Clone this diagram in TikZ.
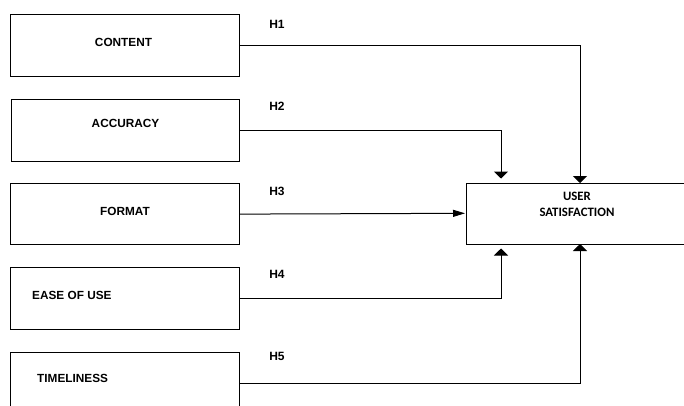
\documentclass[tikz,border=0pt]{standalone}
\usepackage{fontspec}
\usetikzlibrary{arrows.meta}
\newfontfamily\arialf{Liberation Sans}
\newfontfamily\carlitof{Carlito}
\begin{document}
\begin{tikzpicture}[x=1pt,y=-1pt,
  box/.style={draw, line width=1.2pt, rectangle, inner sep=0pt, anchor=north west},
  lbl/.style={inner sep=0pt, font=\arialf\bfseries\fontsize{11.8}{14}\selectfont},
  hlbl/.style={inner sep=0pt, font=\arialf\bfseries\fontsize{12}{14}\selectfont},
  conn/.style={line width=1pt},
  vtip/.style={conn, -{Triangle[width=14pt,length=7pt]}},
  htip/.style={conn, -{Triangle[width=7pt,length=12pt]}}]
\useasboundingbox (0,0) rectangle (684,405);
\fill[white] (0,0) rectangle (684,405);
\clip (0,0) rectangle (684,405);
% source boxes
\node[box, minimum width=229pt, minimum height=62pt] (content) at (10,14) {};
\node[box, minimum width=228pt, minimum height=62pt] (accuracy) at (11,99) {};
\node[box, minimum width=229pt, minimum height=61pt] (format) at (10,183) {};
\node[box, minimum width=229pt, minimum height=62pt] (ease) at (10,267) {};
\node[box, minimum width=229pt, minimum height=61pt] (time) at (10,352) {};
% target box
\node[box, minimum width=224pt, minimum height=61pt] (user) at (466,183) {};
% texts
\node[lbl] (tcontent) at (123.5,42.5) {CONTENT};
\node[lbl] (taccuracy) at (125.5,123) {ACCURACY};
\node[lbl] (tformat) at (125,211) {FORMAT};
\node[lbl, anchor=west] (tease) at (32,295.7) {EASE OF USE};
\node[lbl, anchor=west] (ttime) at (37,378.5) {TIMELINESS};
\node[inner sep=0pt, align=center, font=\carlitof\bfseries\fontsize{12.8}{16.5}\selectfont] (tuser) at (577,204.5) {USER\\SATISFACTION};
% hypothesis labels
\node[hlbl] (h1) at (277,24.5) {H1};
\node[hlbl] (h2) at (277,106) {H2};
\node[hlbl] (h3) at (277,191.5) {H3};
\node[hlbl] (h4) at (277,274.5) {H4};
\node[hlbl] (h5) at (277,356) {H5};
% connectors
\coordinate (c1) at (580,183);
\coordinate (c2) at (501,178.5);
\coordinate (c4) at (501,248.5);
\coordinate (c5) at (580,244);
\coordinate (c3) at (465,213.3);
\draw[vtip] (content.east) -| (c1);
\draw[vtip] (accuracy.east) -| (c2);
\draw[htip] (format.east) -- (c3);
\draw[vtip] (ease.east) -| (c4);
\draw[vtip] ([yshift=-0.5pt]time.east) -| (c5);
\end{tikzpicture}
\end{document}
